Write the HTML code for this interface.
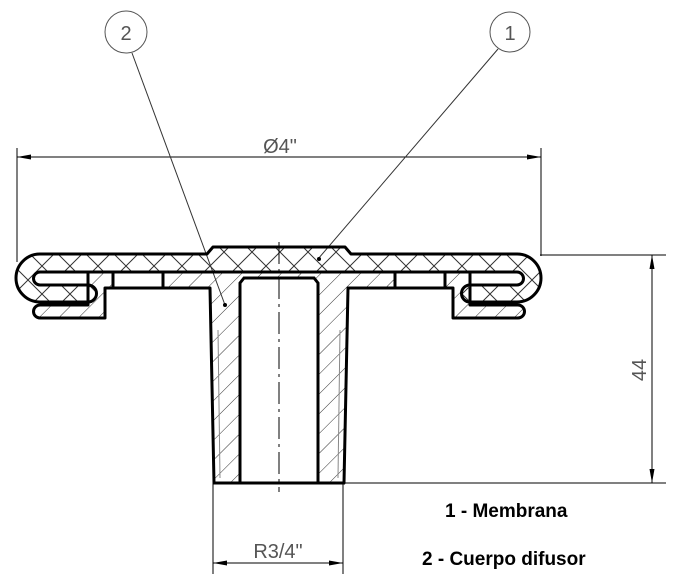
<!DOCTYPE html>
<html><head><meta charset="utf-8"><style>
html,body{margin:0;padding:0;background:#fff;}
svg{display:block;}
</style></head><body>
<svg width="677" height="583" viewBox="0 0 677 583" xmlns="http://www.w3.org/2000/svg">
<defs>
<pattern id="h1" patternUnits="userSpaceOnUse" width="14" height="14" patternTransform="rotate(45)">
<line x1="0" y1="0" x2="0" y2="14" stroke="#333" stroke-width="1"/></pattern>
<pattern id="hx" patternUnits="userSpaceOnUse" width="28" height="28">
<path d="M0 28 L28 0 M0 0 L28 28" stroke="#333" stroke-width="1" fill="none"/></pattern>
<marker id="ar" markerWidth="14" markerHeight="6" refX="14" refY="3" orient="auto" markerUnits="userSpaceOnUse">
<path d="M0 0.5 L14 3 L0 5.5 Z" fill="#000"/></marker>
</defs>
<g fill="none" stroke="#000" stroke-width="1">
<line x1="17" y1="148" x2="17" y2="262"/>
<line x1="541" y1="148" x2="541" y2="256"/>
<line x1="540" y1="255" x2="666" y2="255"/>
<line x1="345" y1="483" x2="666" y2="483"/>
<line x1="213" y1="483" x2="213" y2="574"/>
<line x1="343" y1="483" x2="343" y2="574"/>
<line x1="30" y1="157" x2="17" y2="157" marker-end="url(#ar)"/>
<line x1="30" y1="157" x2="528" y2="157"/>
<line x1="528" y1="157" x2="541" y2="157" marker-end="url(#ar)"/>
<line x1="652" y1="270" x2="652" y2="255" marker-end="url(#ar)"/>
<line x1="652" y1="270" x2="652" y2="468"/>
<line x1="652" y1="468" x2="652" y2="483" marker-end="url(#ar)"/>
<line x1="226" y1="563" x2="213" y2="563" marker-end="url(#ar)"/>
<line x1="226" y1="563" x2="330" y2="563"/>
<line x1="330" y1="563" x2="343" y2="563" marker-end="url(#ar)"/>
<circle cx="126" cy="32" r="21" stroke="#555"/>
<circle cx="510" cy="32" r="20" stroke="#555"/>
<line x1="132" y1="53" x2="225" y2="305" stroke="#333"/>
<line x1="498" y1="49" x2="318" y2="259" stroke="#333"/>
</g>
<path d="M88 272 L470 272 L470 305 L518 305 A6.5 6.5 0 0 1 518 318 L453 318 L453 288 L348 288 L344 483 L214 483 L210 288 L105 288 L105 318 L40 318 A6.5 6.5 0 0 1 40 305 L88 305 Z" fill="url(#h1)" stroke="#000" stroke-width="3" stroke-linejoin="round"/>
<path d="M240 483 L240 283 L244 278 L314 278 L318 283 L318 483 Z" fill="#fff" stroke="#000" stroke-width="3"/>
<rect x="113" y="272" width="50" height="16" fill="#fff" stroke="#000" stroke-width="3"/>
<rect x="395" y="272" width="50" height="16" fill="#fff" stroke="#000" stroke-width="3"/>
<path d="M40 254 L207 254 L213 247 L345 247 L351 254 L517 254 A24 24 0 0 1 517 302 L470 302 A8.5 8.5 0 0 1 470 285 L517 285 A6.5 6.5 0 0 0 517 272 L40 272 A6.5 6.5 0 0 0 40 285 L88 285 A8.5 8.5 0 0 1 88 302 L40 302 A24 24 0 0 1 40 254 Z" fill="url(#hx)" stroke="#000" stroke-width="3" stroke-linejoin="round"/>
<line x1="213" y1="483" x2="345" y2="483" stroke="#000" stroke-width="3"/>
<line x1="218" y1="330" x2="220" y2="478" stroke="#888" stroke-width="1"/>
<line x1="340" y1="330" x2="338" y2="478" stroke="#888" stroke-width="1"/>
<line x1="279" y1="242" x2="279" y2="492" stroke="#000" stroke-width="1" stroke-dasharray="22,5,3,5"/>
<circle cx="225" cy="305" r="2" fill="#000"/>
<circle cx="319" cy="259" r="2" fill="#000"/>
<g font-family="Liberation Sans, sans-serif" fill="#555">
<text x="126" y="40" font-size="20" text-anchor="middle">2</text>
<text x="510" y="40" font-size="20" text-anchor="middle">1</text>
<text x="280" y="153" font-size="20" text-anchor="middle">Ø4"</text>
<text x="278" y="558" font-size="20" text-anchor="middle">R3/4"</text>
<text transform="translate(646,370) rotate(-90)" font-size="20" text-anchor="middle">44</text>
</g>
<g font-family="Liberation Sans, sans-serif" font-weight="bold" font-size="19" fill="#000">
<text x="445" y="517">1 - Membrana</text>
<text x="422" y="565">2 - Cuerpo difusor</text>
</g>
</svg>
</body></html>
